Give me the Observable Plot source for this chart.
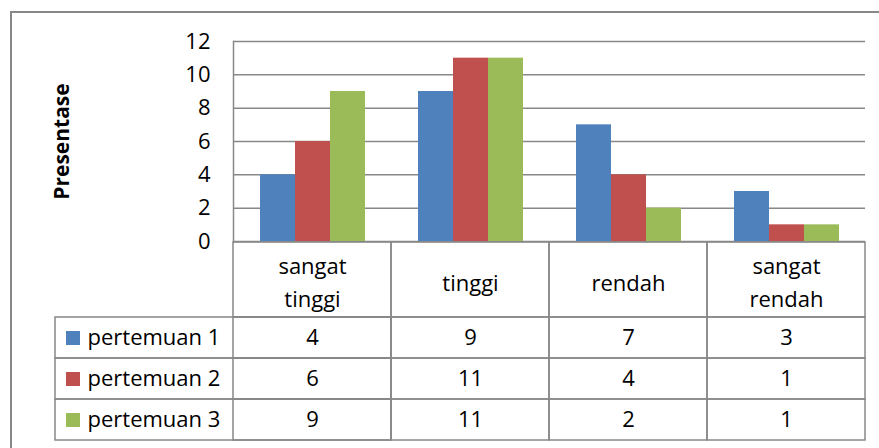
<!DOCTYPE html>
<html>
<head>
<meta charset="utf-8">
<script src="https://cdn.jsdelivr.net/npm/d3@7"></script>
<script src="https://cdn.jsdelivr.net/npm/@observablehq/plot@0.6"></script>
<style>
  html, body { margin: 0; padding: 0; background: #fff; }
  #page { position: relative; width: 879px; height: 448px; overflow: hidden; background: #fff; }
  #border { position: absolute; left: 10px; top: 11px; width: 1000px; height: 1000px; border: 2px solid #888; box-sizing: border-box; }
  #chart { position: absolute; left: 0; top: 0; }
  #table { position: absolute; left: 0; top: 240px; }
</style>
</head>
<body>
<div id="page">
  <div id="border"></div>
  <div id="chart"></div>
  <div id="table"></div>
</div>
<script>
const categories = ["sangat tinggi", "tinggi", "rendah", "sangat rendah"];
const categoryLabels = ["sangat\ntinggi", "tinggi", "rendah", "sangat\nrendah"];
const seriesNames = ["pertemuan 1", "pertemuan 2", "pertemuan 3"];
const pertemuan1 = [4, 9, 7, 3];
const pertemuan2 = [6, 11, 4, 1];
const pertemuan3 = [9, 11, 2, 1];
const yTicks = [0, 2, 4, 6, 8, 10, 12];
const yLabel = "Presentase";

const colors = ["#4F81BD", "#C0504D", "#9BBB59"];
const seriesValues = [pertemuan1, pertemuan2, pertemuan3];
const rows = seriesNames.flatMap((s, i) =>
  categories.map((c, j) => ({series: s, category: c, value: seriesValues[i][j]}))
);

const gridColor = "#888";
const font = {fontFamily: "'Open Sans', sans-serif", fontSize: "22px", background: "transparent", color: "#000", overflow: "visible"};

// inset pairs per series to place 3 bars side by side inside each category band
const insets = [[27, 96], [62, 61], [97, 26]];

const chart = Plot.plot({
  width: 879,
  height: 242,
  marginLeft: 233,
  marginRight: 14,
  marginTop: 41,
  marginBottom: 1,
  style: font,
  x: {domain: categories, padding: 0, axis: null},
  y: {domain: [0, 12], axis: null},
  color: {domain: seriesNames, range: colors},
  marks: [
    Plot.gridY(yTicks, {stroke: gridColor, strokeOpacity: 1, strokeWidth: 1.5}),
    ...seriesNames.map((s, i) =>
      Plot.barY(rows.filter(d => d.series === s), {
        x: "category", y: "value", fill: "series",
        insetLeft: insets[i][0], insetRight: insets[i][1]
      })
    ),
    Plot.frame({anchor: "left", stroke: gridColor, strokeWidth: 1.5}),
    Plot.axisY({ticks: yTicks, tickSize: 0, tickPadding: 23, label: null}),
    Plot.text([yLabel], {frameAnchor: "left", textAnchor: "middle", lineAnchor: "middle", rotate: -90, dx: -171, fontWeight: "bold", fontSize: 21})
  ]
});
document.getElementById("chart").appendChild(chart);

const cellStyle = {fill: "none", stroke: gridColor, strokeWidth: 1.5};
const table = Plot.plot({
  width: 879,
  height: 208,
  marginLeft: 233,
  marginRight: 14,
  marginTop: 35,
  marginBottom: 8,
  style: font,
  x: {domain: categories, padding: 0, axis: null},
  y: {domain: ["header", ...seriesNames], padding: 0, axis: null},
  color: {domain: seriesNames, range: colors},
  marks: [
    Plot.cell(categories, {x: d => d, y: () => "header", insetTop: -34, ...cellStyle}),
    Plot.text(categories, {x: d => d, y: () => "header", text: (d, i) => categoryLabels[i], dy: -17, lineAnchor: "middle", lineHeight: 1.5}),
    Plot.cell(rows, {x: "category", y: "series", ...cellStyle}),
    Plot.text(rows, {x: "category", y: "series", text: d => String(d.value)}),
    Plot.cell(seriesNames, {x: () => categories[0], y: d => d, insetLeft: -178, ...cellStyle}),
    Plot.dot(seriesNames, {x: () => categories[0], y: d => d, symbol: "square", r: 7.9, fill: d => d, stroke: null, dx: -239.5}),
    Plot.text(seriesNames, {x: () => categories[0], y: d => d, text: d => d, textAnchor: "start", dx: -225})
  ]
});
document.getElementById("table").appendChild(table);
</script>
</body>
</html>
